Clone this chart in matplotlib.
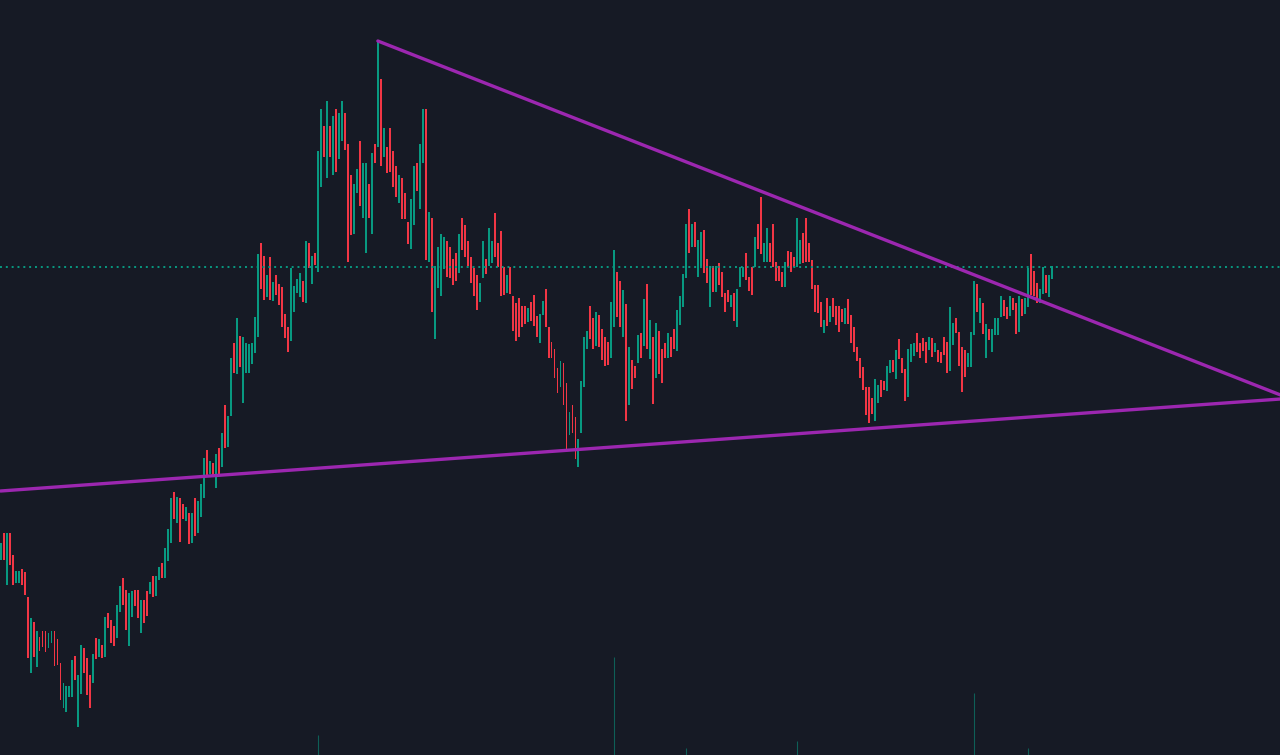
# %%
import matplotlib
matplotlib.use("Agg")
import matplotlib.pyplot as plt
import numpy as np

# %% candle data (price units, one bar per session)
opens = [195, 222, 170, 222, 200, 172, 172, 186, 183, 158, 82, 133, 88, 118, 124, 124, 107, 112, 124, 116,
         92, 47, 43, 58, 58, 99, 28, 61, 107, 97, 80, 72, 117, 98, 110, 98, 142, 135, 129, 117,
         143, 177, 165, 109, 138, 165, 165, 122, 155, 164, 161, 179, 159, 175, 192, 177, 194, 212, 263, 232,
         257, 251, 234, 242, 212, 257, 222, 238, 257, 305, 281, 292, 267, 307, 288, 350, 308, 339, 412, 381,
         419, 352, 382, 382, 391, 402, 418, 512, 499, 458, 498, 454, 480, 471, 468, 441, 428, 414, 443, 462,
         458, 474, 452, 512, 471, 502, 483, 568, 629, 577, 629, 580, 646, 596, 614, 642, 611, 580, 521, 562,
         614, 537, 502, 571, 521, 611, 608, 676, 598, 608, 627, 604, 589, 552, 577, 562, 533, 506, 530, 592,
         546, 592, 646, 493, 537, 416, 467, 459, 486, 514, 508, 496, 502, 482, 537, 530, 514, 498, 487, 480,
         453, 477, 496, 489, 492, 542, 512, 524, 488, 462, 488, 459, 452, 457, 449, 449, 433, 453, 460, 439,
         412, 440, 466, 428, 413, 406, 387, 368, 392, 372, 320, 350, 338, 288, 322, 368, 406, 449, 437, 409,
         440, 426, 418, 413, 397, 428, 483, 474, 418, 451, 350, 395, 389, 392, 422, 409, 471, 396, 418, 377,
         424, 406, 412, 397, 418, 426, 404, 430, 448, 477, 546, 508, 533, 478, 489, 525, 496, 448, 489, 463,
         492, 483, 462, 465, 448, 462, 428, 468, 478, 502, 478, 488, 488, 531, 558, 493, 493, 512, 531, 493,
         489, 483, 468, 504, 503, 498, 488, 491, 522, 537, 512, 495, 470, 470, 453, 422, 457, 433, 457, 449,
         449, 446, 431, 456, 440, 428, 408, 397, 388, 368, 368, 357, 334, 352, 375, 374, 364, 382, 395, 376,
         416, 397, 386, 358, 393, 399, 422, 412, 417, 413, 405, 417, 403, 405, 403, 418, 413, 384, 410, 437,
         423, 408, 405, 388, 388, 420, 471, 432, 452, 397, 426, 403, 420, 420, 438, 455, 448, 439, 457, 452,
         423, 456, 441, 448, 501, 484, 472, 452, 461, 480, 458, 476]
closes = [212, 195, 222, 190, 170, 184, 184, 170, 160, 97, 137, 98, 124, 104, 108, 103, 122, 124, 89, 90,
          55, 72, 69, 69, 95, 75, 80, 110, 82, 60, 47, 101, 96, 116, 97, 138, 127, 112, 109, 150,
          169, 150, 125, 162, 164, 149, 137, 155, 132, 139, 173, 158, 179, 188, 177, 207, 226, 257, 236, 258,
          213, 236, 248, 211, 242, 219, 254, 271, 297, 278, 294, 278, 301, 280, 322, 307, 339, 397, 382, 437,
          388, 418, 412, 411, 412, 438, 501, 466, 455, 480, 455, 473, 460, 450, 428, 417, 403, 487, 469, 476,
          482, 453, 514, 487, 499, 490, 604, 646, 598, 654, 598, 639, 583, 642, 654, 605, 493, 520, 571, 586,
          549, 592, 592, 537, 602, 592, 714, 589, 627, 582, 583, 568, 558, 580, 536, 536, 511, 556, 589, 564,
          611, 646, 495, 543, 443, 489, 508, 521, 518, 478, 477, 470, 474, 521, 505, 498, 489, 472, 459, 445,
          472, 514, 481, 527, 514, 498, 488, 459, 460, 480, 461, 424, 414, 418, 428, 431, 447, 434, 429, 418,
          441, 454, 428, 397, 397, 377, 362, 394, 350, 306, 343, 322, 296, 316, 374, 418, 424, 416, 406, 443,
          408, 395, 389, 390, 453, 505, 438, 428, 465, 334, 408, 366, 377, 420, 397, 456, 406, 435, 351, 432,
          381, 372, 397, 422, 398, 406, 445, 459, 481, 531, 502, 531, 508, 515, 523, 482, 472, 489, 463, 489,
          470, 458, 443, 453, 460, 434, 466, 488, 488, 475, 464, 460, 518, 506, 501, 512, 527, 493, 488, 474,
          474, 468, 493, 488, 483, 488, 537, 515, 492, 493, 493, 466, 443, 442, 428, 435, 429, 449, 438, 430,
          423, 433, 447, 431, 412, 403, 394, 377, 365, 340, 332, 341, 376, 370, 358, 365, 389, 395, 383, 405,
          396, 382, 354, 406, 411, 412, 403, 397, 404, 392, 418, 398, 412, 393, 392, 400, 382, 448, 432, 422,
          389, 363, 378, 402, 423, 474, 443, 457, 421, 431, 415, 426, 437, 437, 459, 439, 436, 459, 445, 421,
          459, 439, 457, 487, 460, 459, 452, 466, 488, 462, 480, 489]

# volume spikes (bar index, size)
vol_idx = [106, 205, 229, 266, 325, 343]
vol_size = [20, 98, 7, 14, 62, 7]

# trend lines (bar index, price)
upper_line = [(126, 714), (427.5, 360)]
lower_line = [(0, 264), (427.5, 356)]

# %% colours
bg = "#161a25"
up_col = "#089981"
down_col = "#f23645"
line_col = "#9c27b0"

# %% plot
fig = plt.figure(figsize=(12.8, 7.55), dpi=100, facecolor=bg)
ax = fig.add_axes([0, 0, 1, 1])
ax.set_facecolor(bg)

o = np.array(opens)
c = np.array(closes)
x = np.arange(len(o))
cols = np.where(c >= o, up_col, down_col)
ax.bar(x, c - o, bottom=o, width=0.65, color=cols, linewidth=0)

# volume
ax.vlines(vol_idx, 0, vol_size, color=up_col, alpha=0.55, linewidth=0.8)

# last price line
ax.axhline(closes[-1] - 1, color=up_col, linestyle=(0, (1, 2)), linewidth=1.4)

# triangle lines
for ln in (upper_line, lower_line):
    xs, ys = zip(*ln)
    ax.plot(xs, ys, color=line_col, linewidth=2.4, solid_capstyle="round")

ax.set_xlim(-0.2, 427.3)
ax.set_ylim(0, 755)
ax.axis("off")

fig.savefig("out.png", dpi=100, facecolor=bg)
